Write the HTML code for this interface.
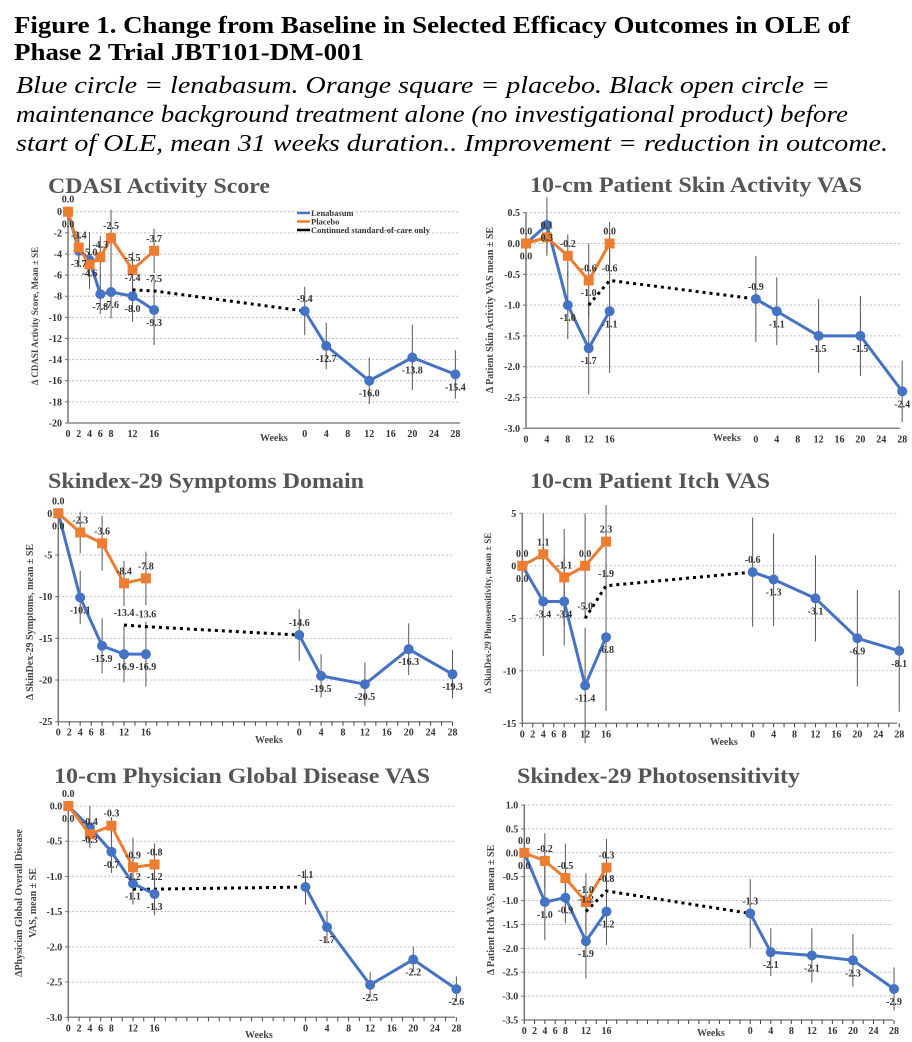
<!DOCTYPE html>
<html><head><meta charset="utf-8">
<style>
html,body{margin:0;padding:0;background:#fff;}
svg{display:block;font-family:"Liberation Serif",serif;}
</style></head>
<body>
<svg id="fig" width="912" height="1042" viewBox="0 0 912 1042" xmlns="http://www.w3.org/2000/svg">
<text x="14" y="33" font-size="24" font-weight="bold" textLength="836" lengthAdjust="spacingAndGlyphs">Figure 1. Change from Baseline in Selected Efficacy Outcomes in OLE of</text>
<text x="14" y="60" font-size="24" font-weight="bold" textLength="350" lengthAdjust="spacingAndGlyphs">Phase 2 Trial JBT101-DM-001</text>
<text x="16" y="93" font-size="24" font-style="italic" textLength="814" lengthAdjust="spacingAndGlyphs">Blue circle = lenabasum. Orange square = placebo.  Black open circle =</text>
<text x="16" y="122" font-size="24" font-style="italic" textLength="832" lengthAdjust="spacingAndGlyphs">maintenance background treatment alone (no investigational product) before</text>
<text x="16" y="151" font-size="24" font-style="italic" textLength="872" lengthAdjust="spacingAndGlyphs">start of OLE, mean 31 weeks duration..  Improvement = reduction in outcome.</text>
</svg>
<script>
// shared categories
const weeksP1Full = [0,2,4,6,8,12,16];
const weeksP1 = [0,4,8,12,16];
const weeksOle = [0,4,12,20,28];
const socWeeks = [12,16];           // last point is OLE week 0
const oleTickLabels = [0,4,8,12,16,20,24,28];

// CDASI
const cdasiLena = [0,-3.7,-4.6,-7.8,-7.6,-8.0,-9.3];
const cdasiLenaErr = [0,1.5,2.7,1.9,2.5,2.4,3.3];
const cdasiPlac = [0,-3.4,-5.0,-4.3,-2.5,-5.5,-3.7];
const cdasiPlacErr = [0,1.5,2.3,2.0,2.7,1.7,2.1];
const cdasiSoc = [-7.4,-7.5,-9.4];
const cdasiOle = [-9.4,-12.7,-16.0,-13.8,-15.4];
const cdasiOleErr = [2.3,2.2,2.2,3.1,2.3];
const cdasiYTicks = [0,-2,-4,-6,-8,-10,-12,-14,-16,-18,-20];

// Skin activity VAS
const skinLena = [0,0.3,-1.0,-1.7,-1.1];
const skinLenaErr = [0,0.45,0.55,0.75,1.0];
const skinPlac = [0,0.1,-0.2,-0.6,0.0];
const skinPlacErr = [0,0.3,0.35,0.6,0.35];
const skinSoc = [-1.0,-0.6,-0.9];
const skinOle = [-0.9,-1.1,-1.5,-1.5,-2.4];
const skinOleErr = [0.7,0.55,0.6,0.65,0.5];
const skinYTicks = [0.5,0,-0.5,-1,-1.5,-2,-2.5,-3];

// Skindex symptoms
const sympLena = [0,-10.1,-15.9,-16.9,-16.9];
const sympLenaErr = [0,3.2,3.3,3.4,3.9];
const sympPlac = [0,-2.3,-3.6,-8.4,-7.8];
const sympPlacErr = [0,2.5,3.3,2.7,3.2];
const sympSoc = [-13.4,-13.6,-14.6];
const sympOle = [-14.6,-19.5,-20.5,-16.3,-19.3];
const sympOleErr = [3.1,2.6,2.6,3.1,2.9];
const sympYTicks = [0,-5,-10,-15,-20,-25];

// Itch VAS
const itchLena = [0,-3.4,-3.4,-11.4,-6.8];
const itchLenaErr = [0,5.2,4.2,5.5,7.0];
const itchPlac = [0,1.1,-1.1,0.0,2.3];
const itchPlacErr = [0,3.9,4.6,5.0,3.5];
const itchSoc = [-5.0,-1.9,-0.6];
const itchOle = [-0.6,-1.3,-3.1,-6.9,-8.1];
const itchOleErr = [5.2,4.4,4.1,4.6,5.8];
const itchYTicks = [5,0,-5,-10,-15];

// Physician global
const physLena = [0,-0.3,-0.65,-1.1,-1.25];
const physLenaErr = [0,0.3,0.3,0.3,0.3];
const physPlac = [0,-0.4,-0.28,-0.87,-0.83];
const physPlacErr = [0,0.15,0.12,0.42,0.3];
const physSoc = [-1.18,-1.18,-1.15];
const physOle = [-1.15,-1.72,-2.54,-2.18,-2.6];
const physOleErr = [0.25,0.23,0.18,0.18,0.18];
const physYTicks = [0,-0.5,-1,-1.5,-2,-2.5,-3];

// Photosensitivity
const photoLena = [0,-1.03,-0.94,-1.85,-1.23];
const photoLenaErr = [0,0.8,0.53,0.78,0.7];
const photoPlac = [0,-0.17,-0.53,-1.03,-0.31];
const photoPlacErr = [0,0.58,0.72,0.6,0.6];
const photoSoc = [-1.23,-0.8,-1.27];
const photoOle = [-1.27,-2.08,-2.15,-2.25,-2.85];
const photoOleErr = [0.72,0.5,0.57,0.55,0.45];
const photoYTicks = [1,0.5,0,-0.5,-1,-1.5,-2,-2.5,-3,-3.5];

const NS = "http://www.w3.org/2000/svg";
const svg = document.getElementById('fig');
function mk(tag, attrs, parent){
  const e = document.createElementNS(NS, tag);
  for (const k in attrs) e.setAttribute(k, attrs[k]);
  (parent||svg).appendChild(e);
  return e;
}
function fmt(v, dec){ return v.toFixed(dec); }

const panels = [
 {key:'cdasi', title:'CDASI Activity Score', tx:48, ty:193, tw:222, ylab:['Δ CDASI Activity Score, Mean ± SE'], ylx:[38], yly:316, ylsize:9,
  x0:68, xs:10.76, right:460, vTop:0, pTop:211.7, vBot:-20, pBot:423, ticks:cdasiYTicks, dec:0, p1w:weeksP1Full, p1labels:weeksP1Full, minor:false,
  lena:cdasiLena, lenaErr:cdasiLenaErr, plac:cdasiPlac, placErr:cdasiPlacErr, soc:cdasiSoc, ole:cdasiOle, oleErr:cdasiOleErr, weeksX:260, weeksY:441, legend:true},
 {key:'skin', title:'10-cm Patient Skin Activity VAS', tx:530, ty:192, tw:332, ylab:['Δ Patient Skin Activity VAS mean ± SE'], ylx:[493], yly:310, ylsize:10,
  x0:526, xs:10.45, right:900, vTop:0.5, pTop:212.7, vBot:-3, pBot:428.3, ticks:skinYTicks, dec:1, p1w:weeksP1, p1labels:weeksP1, minor:false,
  lena:skinLena, lenaErr:skinLenaErr, plac:skinPlac, placErr:skinPlacErr, soc:skinSoc, ole:skinOle, oleErr:skinOleErr, weeksX:713, weeksY:441},
 {key:'symp', title:'Skindex-29 Symptoms Domain', tx:48, ty:488, tw:316, ylab:['Δ SkinDex-29  Symptoms,  mean ± SE'], ylx:[33], yly:622, ylsize:10,
  x0:58.3, xs:10.95, right:452, vTop:0, pTop:513.3, vBot:-25, pBot:721.7, ticks:sympYTicks, dec:0, p1w:weeksP1, p1labels:weeksP1Full, minor:true,
  lena:sympLena, lenaErr:sympLenaErr, plac:sympPlac, placErr:sympPlacErr, soc:sympSoc, ole:sympOle, oleErr:sympOleErr, weeksX:255, weeksY:743},
 {key:'itch', title:'10-cm Patient Itch VAS', tx:530, ty:488, tw:240, ylab:['Δ SkinDex-29  Photosensitivity, mean ± SE'], ylx:[491], yly:613, ylsize:9,
  x0:522.3, xs:10.47, right:897, vTop:5, pTop:513.3, vBot:-15, pBot:723.3, ticks:itchYTicks, dec:0, p1w:weeksP1, p1labels:weeksP1Full, minor:true,
  lena:itchLena, lenaErr:itchLenaErr, plac:itchPlac, placErr:itchPlacErr, soc:itchSoc, ole:itchOle, oleErr:itchOleErr, weeksX:710, weeksY:745},
 {key:'phys', title:'10-cm Physician  Global Disease VAS', tx:54, ty:783, tw:376, ylab:['ΔPhysician Global Overall Disease','VAS, mean ± SE'], ylx:[22,36], yly:903, ylsize:10,
  x0:68.3, xs:10.78, right:455, vTop:0, pTop:806, vBot:-3, pBot:1017.3, ticks:physYTicks, dec:1, p1w:weeksP1, p1labels:weeksP1Full, minor:true,
  lena:physLena, lenaErr:physLenaErr, plac:physPlac, placErr:physPlacErr, soc:physSoc, ole:physOle, oleErr:physOleErr, weeksX:245, weeksY:1038},
 {key:'photo', title:'Skindex-29 Photosensitivity', tx:517, ty:783, tw:283, ylab:['Δ Patient Itch VAS, mean ± SE'], ylx:[494], yly:910, ylsize:10,
  x0:524.3, xs:10.27, right:893, vTop:1, pTop:805, vBot:-3.5, pBot:1020, ticks:photoYTicks, dec:1, p1w:weeksP1, p1labels:weeksP1Full, minor:true,
  lena:photoLena, lenaErr:photoLenaErr, plac:photoPlac, placErr:photoPlacErr, soc:photoSoc, ole:photoOle, oleErr:photoOleErr, weeksX:697, weeksY:1036}
];

panels.forEach(p => {
  const g = mk('g', {});
  
  
  const X1 = w => p.x0 + (w/2)*p.xs;
  const X2 = w => p.x0 + (22 + w/2)*p.xs;
  const Y = v => p.pTop + (p.vTop - v)*(p.pBot - p.pTop)/(p.vTop - p.vBot);

  const t = mk('text', {x:p.tx, y:p.ty, 'font-size':22, 'font-weight':'bold', fill:'#555', textLength:p.tw, lengthAdjust:'spacingAndGlyphs'}, g);
  t.textContent = p.title;
  
  

  p.ticks.forEach(v => {
    const gl = mk('line', {x1:p.x0, x2:p.right, y1:Y(v), y2:Y(v), stroke:'#bdbdbd', 'stroke-width':1, 'stroke-dasharray':'2,2'}, g);
    
    
    const tl = mk('text', {x:p.x0 - 6, y:Y(v) + 3.5, 'font-size':10, 'font-weight':'bold', fill:'#333', 'text-anchor':'end'}, g);
    tl.textContent = v === 0 ? (p.dec ? (0).toFixed(p.dec) : '0') : fmt(v, p.dec);
    
    
    mk('line', {x1:p.x0-3, x2:p.x0, y1:Y(v), y2:Y(v), stroke:'#666'}, g);
  });
  const ya = mk('line', {x1:p.x0, x2:p.x0, y1:p.pTop, y2:p.pBot, stroke:'#777', 'stroke-width':1.5}, g);
  
  
  const xa = mk('line', {x1:p.x0, x2:p.right, y1:p.pBot, y2:p.pBot, stroke:'#888', 'stroke-width':1.5}, g);
  
  
  if (p.minor) {
    for (let i = 0; i <= 36; i++) mk('line', {x1:p.x0+i*p.xs, x2:p.x0+i*p.xs, y1:p.pBot, y2:p.pBot+4, stroke:'#444'}, g);
  }
  p.p1labels.forEach(w => {
    const xl = mk('text', {x:X1(w), y:p.pBot + 14, 'font-size':10, 'font-weight':'bold', fill:'#333', 'text-anchor':'middle'}, g);
    xl.textContent = w;
    
    
  });
  oleTickLabels.forEach(w => {
    const xl = mk('text', {x:X2(w), y:p.pBot + 14, 'font-size':10, 'font-weight':'bold', fill:'#333', 'text-anchor':'middle'}, g);
    xl.textContent = w;
    
    
  });
  const wk = mk('text', {x:p.weeksX, y:p.weeksY, 'font-size':10, 'font-weight':'bold', fill:'#444'}, g);
  wk.textContent = 'Weeks';
  
  

  p.ylab.forEach((s, i) => {
    const yt = mk('text', {x:p.ylx[i], y:p.yly, 'font-size':p.ylsize, 'font-weight':'bold', fill:'#444', 'text-anchor':'middle', transform:`rotate(-90 ${p.ylx[i]} ${p.yly})`}, g);
    yt.textContent = s;
    
    
  });

  function errs(ws, vals, es, X, name){
    ws.forEach((w, i) => {
      if (!es[i]) return;
      const e = mk('line', {x1:X(w), x2:X(w), y1:Y(vals[i]+es[i]), y2:Y(vals[i]-es[i]), stroke:'#555', 'stroke-width':1}, g);
      
      
    });
  }
  errs(p.p1w, p.plac, p.placErr, X1, p.key + '-placebo-error-bar');
  errs(p.p1w, p.lena, p.lenaErr, X1, p.key + '-lenabasum-error-bar');
  errs(weeksOle, p.ole, p.oleErr, X2, p.key + '-ole-error-bar');

  const socPts = socWeeks.map((w, i) => [X1(w), Y(p.soc[i])]).concat([[X2(0), Y(p.soc[2])]]);
  const sl = mk('polyline', {points:socPts.map(q => q.join(',')).join(' '), fill:'none', stroke:'#000', 'stroke-width':3, 'stroke-dasharray':'3,4'}, g);
  
  

  function series(ws, vals, X, color, name, square){
    const pl = mk('polyline', {points:ws.map((w,i) => X(w)+','+Y(vals[i])).join(' '), fill:'none', stroke:color, 'stroke-width':3}, g);
    
    
    ws.forEach((w, i) => {
      let m;
      if (square) m = mk('rect', {x:X(w)-5, y:Y(vals[i])-5, width:10, height:10, fill:color}, g);
      else m = mk('circle', {cx:X(w), cy:Y(vals[i]), r:5, fill:color}, g);
      
      
    });
  }
  series(p.p1w, p.lena, X1, '#4472C4', p.key + '-lenabasum', false);
  series(weeksOle, p.ole, X2, '#4472C4', p.key + '-lenabasum-ole', false);
  series(p.p1w, p.plac, X1, '#ED7D31', p.key + '-placebo', true);

  function labels(ws, vals, X, dy, name){
    ws.forEach((w, i) => {
      const l = mk('text', {x:X(w), y:Y(vals[i]) + dy, 'font-size':10, 'font-weight':'bold', fill:'#333', 'text-anchor':'middle'}, g);
      l.textContent = fmt(vals[i], 1);
      
      
    });
  }
  labels(p.p1w, p.lena, X1, 16, p.key + '-lenabasum-value-label');
  labels(weeksOle.slice(1), p.ole.slice(1), X2, 16, p.key + '-ole-value-label');
  labels(p.p1w, p.plac, X1, -9, p.key + '-placebo-value-label');
  labels(socWeeks, p.soc.slice(0,2), X1, -9, p.key + '-soc-value-label');
  labels([0], [p.soc[2]], X2, -9, p.key + '-soc-value-label');

  if (p.legend) {
    const items = [['Lenabasum','#4472C4'],['Placebo','#ED7D31'],['Continued standard-of-care only','#000']];
    items.forEach((it, i) => {
      const y = 213 + i*8.5;
      const ln = mk('line', {x1:297, x2:310, y1:y, y2:y, stroke:it[1], 'stroke-width':2.5}, g);
      
      
      const lt = mk('text', {x:311, y:y+3, 'font-size':8.5, 'font-weight':'bold', fill:'#333'}, g);
      lt.textContent = it[0];
      
      
    });
  }
});
</script>
</body></html>
